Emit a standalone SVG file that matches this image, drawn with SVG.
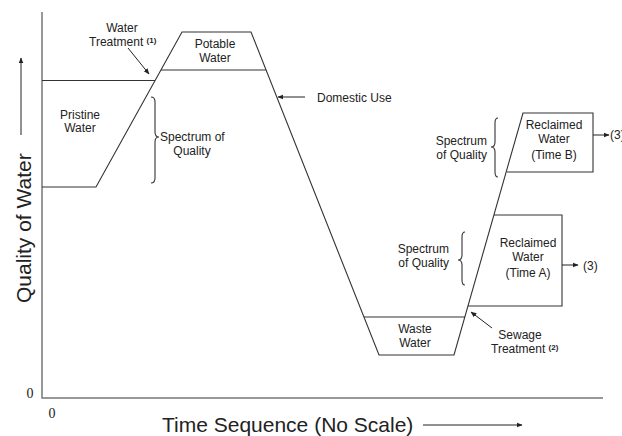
<svg xmlns="http://www.w3.org/2000/svg" width="622" height="436" viewBox="0 0 622 436">
<defs>
<marker id="ah" viewBox="0 0 10 10" refX="9" refY="5" markerWidth="6" markerHeight="6" orient="auto" markerUnits="userSpaceOnUse"><path d="M0,1 L10,5 L0,9 z" fill="#222"/></marker>
</defs>
<style>
text{font-family:"Liberation Sans",Arial,sans-serif;fill:#222;}
.l{font-size:12px;}
.c{text-anchor:middle;}
.r{text-anchor:end;}
.sup{font-size:8px;font-weight:bold;}
.big{font-size:21px;}
.ser{font-family:"Liberation Serif","Times New Roman",serif;font-size:14px;}
.ln{fill:none;stroke:#333;stroke-width:1.1;}
.ax{fill:none;stroke:#777;stroke-width:1.5;}
.ar{fill:none;stroke:#222;stroke-width:1;marker-end:url(#ah);}
</style>
<rect width="622" height="436" fill="#fff"/>
<g id="axes">
<path class="ax" d="M42,12 V398 H603"/>
<text class="ser" x="30" y="398" text-anchor="middle">0</text>
<text class="ser" x="52" y="418" text-anchor="middle">0</text>
<text class="big" x="162" y="432">Time Sequence (No Scale)</text>
<line class="ar" x1="423" y1="425" x2="522" y2="425"/>
<text class="big" transform="translate(31,303) rotate(-90)">Quality of Water</text>
<line class="ar" x1="21" y1="135" x2="21" y2="58"/>
</g>
<g id="connectors">
<path class="ln" d="M42,187 H96 L182,32 H251 L379,355 H454 L523,113 H593 V172 H507"/>
<path class="ln" d="M42,80.5 H155"/>
<path class="ln" d="M161,70 H266"/>
<path class="ln" d="M364,317 H465"/>
<path class="ln" d="M494,215 H562 V306 H468"/>
<line class="ar" x1="128" y1="48" x2="149" y2="74"/>
<line class="ar" x1="305" y1="97" x2="278" y2="97"/>
<line class="ar" x1="492" y1="328" x2="471" y2="312"/>
<line class="ar" x1="593" y1="135" x2="609" y2="135"/>
<line class="ar" x1="562" y1="265" x2="578" y2="265"/>
</g>
<g id="pristine">
<text class="l c" x="80" y="119">Pristine</text>
<text class="l c" x="80" y="132">Water</text>
</g>
<g id="water-treatment">
<text class="l c" x="122" y="32">Water</text>
<text class="l" x="89" y="46">Treatment <tspan class="sup" dy="-3">(1)</tspan></text>
</g>
<g id="potable">
<text class="l c" x="215" y="48">Potable</text>
<text class="l c" x="215" y="62">Water</text>
</g>
<g id="spectrum1">
<path class="ln" d="M151,97 Q155,97 155,102 V132 Q155,137 159,137 Q155,137 155,142 V178 Q155,183 151,183"/>
<text class="l" x="160" y="141">Spectrum of</text>
<text class="l c" x="192" y="155">Quality</text>
</g>
<g id="domestic">
<text class="l" x="317" y="102">Domestic Use</text>
</g>
<g id="reclaimed-b">
<text class="l c" x="554" y="129">Reclaimed</text>
<text class="l c" x="554" y="143">Water</text>
<text class="l c" x="554" y="159">(Time B)</text>
<text class="l" x="610" y="139">(3)</text>
</g>
<g id="spectrum-b">
<path class="ln" d="M498,118 Q495,118 495,123 V142 Q495,147 491,147 Q495,147 495,152 V172 Q495,177 498,177"/>
<text class="l r" x="487" y="145">Spectrum</text>
<text class="l r" x="487" y="159">of Quality</text>
</g>
<g id="reclaimed-a">
<text class="l c" x="528" y="247">Reclaimed</text>
<text class="l c" x="528" y="261">Water</text>
<text class="l c" x="528" y="277">(Time A)</text>
<text class="l" x="583" y="270">(3)</text>
</g>
<g id="spectrum-a">
<path class="ln" d="M465,232 Q462,232 462,237 V255 Q462,260 458,260 Q462,260 462,265 V280 Q462,285 465,285"/>
<text class="l r" x="449" y="253">Spectrum</text>
<text class="l r" x="449" y="267">of Quality</text>
</g>
<g id="waste">
<text class="l c" x="415" y="333">Waste</text>
<text class="l c" x="415" y="347">Water</text>
</g>
<g id="sewage">
<text class="l c" x="520" y="339">Sewage</text>
<text class="l" x="491" y="353">Treatment <tspan class="sup" dy="-3">(2)</tspan></text>
</g>
</svg>
